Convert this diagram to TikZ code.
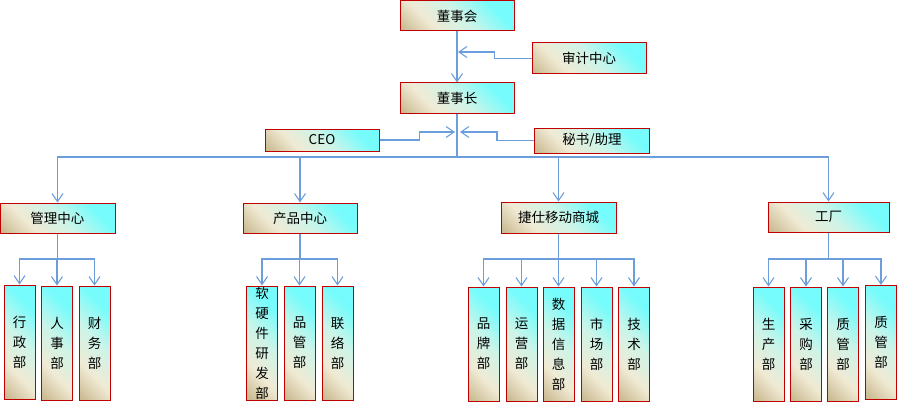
\documentclass[tikz,border=0pt]{standalone}
\usepackage{fontspec}
\setmainfont{Noto Sans CJK SC}
\usepackage{xcolor}
\usetikzlibrary{arrows.meta}
\definecolor{boxred}{RGB}{192,0,0}
\definecolor{boxtan}{RGB}{204,188,148}
\definecolor{boxcream}{RGB}{240,234,212}
\definecolor{boxpale}{RGB}{205,244,232}
\definecolor{boxcyan}{RGB}{118,252,252}
\definecolor{linkblue}{RGB}{108,158,220}
\pgfdeclarehorizontalshading{orgshade}{100bp}{color(0bp)=(boxtan); color(17bp)=(boxtan);
  color(33bp)=(boxcream); color(52bp)=(boxpale); color(72bp)=(boxcyan); color(100bp)=(boxcyan)}
\tikzset{
    org box/.style={
        draw=boxred,
        line width=1pt,
        inner sep=0pt,
        shade,
        shading=orgshade,
        shading angle=45,
        font=\fontsize{13.5}{20}\selectfont
    },
    wide box/.style={
        org box,
        minimum width=114pt,
        minimum height=30pt
    },
    tall box/.style={
        org box,
        align=center,
        minimum width=31pt,
        minimum height=114pt
    },
    link/.style={
        draw=linkblue,
        line width=1.1pt
    },
    arrow link/.style={
        link,
        -{Straight Barb[length=8pt,width=11pt]}
    }
}

\begin{document}
\begin{tikzpicture}[x=1pt,y=-1pt]
    \useasboundingbox (0,0) rectangle (897,404);
    % top of the chart
    \node[wide box] (board) at (457,16) {董事会};
    \node[wide box,minimum height=31pt] (audit) at (589,58.5) {审计中心};
    \node[wide box] (chair) at (457,98) {董事长};
    \node[wide box,minimum height=22pt] (ceo) at (322,140) {CEO};
    \node[wide box,minimum width=115pt,minimum height=25pt] (sec) at (592,140.5) {秘书/助理};
    % centres
    \node[wide box,minimum width=115pt] (mgmt) at (57.5,218) {管理中心};
    \node[wide box] (prod) at (300,218) {产品中心};
    \node[wide box,minimum width=115pt,minimum height=31pt] (mall) at (558.5,217.5) {捷仕移动商城};
    \node[wide box,minimum width=121pt] (fact) at (828.5,217) {工厂};
    % departments
    \node[tall box] (admin) at (19.5,342) {行\\政\\部};
    \node[tall box] (hr) at (57,343) {人\\事\\部};
    \node[tall box] (fin) at (94.5,343) {财\\务\\部};
    \node[tall box] (rnd) at (262,343) {软\\硬\\件\\研\\发\\部};
    \node[tall box] (qa) at (299.5,343) {品\\管\\部};
    \node[tall box] (liaison) at (337.5,343) {联\\络\\部};
    \node[tall box] (brand) at (483.5,344) {品\\牌\\部};
    \node[tall box] (ops) at (521.5,344) {运\\营\\部};
    \node[tall box] (data) at (558.5,344) {数\\据\\信\\息\\部};
    \node[tall box] (mkt) at (596.5,344) {市\\场\\部};
    \node[tall box] (tech) at (634,344) {技\\术\\部};
    \node[tall box] (prodn) at (768.5,344) {生\\产\\部};
    \node[tall box] (purch) at (806,344) {采\\购\\部};
    \node[tall box] (qm) at (843,344) {质\\管\\部};
    \node[tall box] (qmb) at (881,342.5) {质\\管\\部};
    % connectors
    \coordinate (auditin) at (458,52);
    \coordinate (ceoin) at (455,132);
    \coordinate (secin) at (460,132);
    \coordinate (bus) at (457,157);
    \draw[arrow link] (board) -- (chair);
    \draw[arrow link] (audit.west) -- ++(-37,0) |- (auditin);
    \draw[arrow link] (ceo.east) -- ++(40,0) |- (ceoin);
    \draw[arrow link] (sec.west) -- ++(-37,0) |- (secin);
    \draw[link,line width=1.6pt] (chair) -- (bus);
    \foreach \t in {mgmt,prod,mall,fact}
      \draw[arrow link] (bus) -| (\t.north);
    \foreach \p/\cs in {mgmt/{admin,hr,fin},prod/{rnd,qa,liaison},mall/{brand,ops,data,mkt,tech},fact/{prodn,purch,qm,qmb}}{
      \coordinate (\p-fork) at (\p.south |- 0,259);
      \draw[link,line width=1.6pt] (\p) -- (\p-fork);
      \foreach \c in \cs
        \draw[arrow link] (\p-fork) -| (\c.north);
    }
\end{tikzpicture}
\end{document}
